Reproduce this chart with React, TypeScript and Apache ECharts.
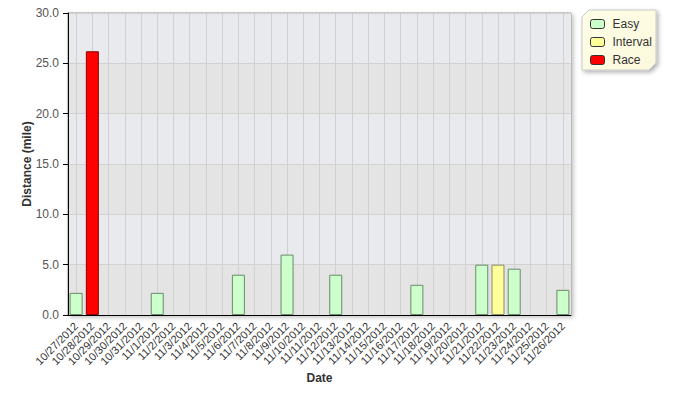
import React, { useEffect, useRef } from "react";
import * as echarts from "echarts";

const dates = [
  "10/27/2012", "10/28/2012", "10/29/2012", "10/30/2012", "10/31/2012",
  "11/1/2012", "11/2/2012", "11/3/2012", "11/4/2012", "11/5/2012",
  "11/6/2012", "11/7/2012", "11/8/2012", "11/9/2012", "11/10/2012",
  "11/11/2012", "11/12/2012", "11/13/2012", "11/14/2012", "11/15/2012",
  "11/16/2012", "11/17/2012", "11/18/2012", "11/19/2012", "11/20/2012",
  "11/21/2012", "11/22/2012", "11/23/2012", "11/24/2012", "11/25/2012",
  "11/26/2012",
];

const easy = [
  2.2, null, null, null, null, 2.2, null, null, null, null,
  4.0, null, null, 6.0, null, null, 4.0, null, null, null,
  null, 3.0, null, null, null, 5.0, null, 4.6, null, null,
  2.5,
];
const interval = [
  null, null, null, null, null, null, null, null, null, null,
  null, null, null, null, null, null, null, null, null, null,
  null, null, null, null, null, null, 5.0, null, null, null,
  null,
];
const race = [
  null, 26.2, null, null, null, null, null, null, null, null,
  null, null, null, null, null, null, null, null, null, null,
  null, null, null, null, null, null, null, null, null, null,
  null,
];

const yTicks = [0, 5, 10, 15, 20, 25, 30];

export default function App() {
  const ref = useRef<HTMLDivElement>(null);
  useEffect(() => {
    document.body.style.margin = "0";
    if (!ref.current) return;
    const chart = echarts.init(ref.current, null, { renderer: "svg" });
    const font = "Liberation Sans, Arial, sans-serif";
    const barCommon = {
      type: "bar" as const,
      stack: "total",
      barWidth: "80%",
    };
    chart.setOption({
      animation: false,
      backgroundColor: "#ffffff",
      textStyle: { fontFamily: font },
      grid: {
        left: 68,
        right: 106,
        top: 13,
        bottom: 84,
        show: true,
        backgroundColor: "#e4e4e4",
        borderColor: "#9a9a9a",
        borderWidth: 1,
        shadowColor: "rgba(0,0,0,0.25)",
        shadowBlur: 4,
        shadowOffsetX: 2,
        shadowOffsetY: 2,
      },
      graphic: [
        {
          type: "polygon",
          z: 0,
          shape: {
            points: [
              [589, 10], [656, 10], [656, 63], [649, 70], [582, 70], [582, 17],
            ],
          },
          style: {
            fill: new echarts.graphic.LinearGradient(0, 0, 1, 1, [
              { offset: 0, color: "#ffffe8" },
              { offset: 1, color: "#fbf8dc" },
            ]),
            stroke: "#c8c8c8",
            lineWidth: 1,
            shadowColor: "rgba(0,0,0,0.3)",
            shadowBlur: 4,
            shadowOffsetX: 2,
            shadowOffsetY: 2,
          },
        },
      ],
      legend: {
        orient: "vertical",
        left: 590,
        top: 18,
        itemWidth: 14,
        itemHeight: 9,
        itemGap: 6,
        padding: 0,
        z: 10,
        textStyle: { fontSize: 12, color: "#333", fontFamily: font, padding: [0, 0, 0, 3] },
        data: [
          { name: "Easy", itemStyle: { color: "#ccffcc", borderColor: "#333", borderWidth: 1 } },
          { name: "Interval", itemStyle: { color: "#ffff99", borderColor: "#333", borderWidth: 1 } },
          { name: "Race", itemStyle: { color: "#ff0000", borderColor: "#333", borderWidth: 1 } },
        ],
      },
      xAxis: {
        type: "category",
        data: dates,
        name: "Date",
        nameLocation: "middle",
        nameGap: 57,
        nameMoveOverlap: false,
        nameTextStyle: { fontWeight: "bold", fontSize: 12, color: "#333", fontFamily: font },
        axisLine: { lineStyle: { color: "#000", width: 1 } },
        axisTick: { alignWithLabel: true, length: 5, lineStyle: { color: "#000" } },
        axisLabel: {
          interval: 0,
          rotate: 45,
          fontSize: 11,
          color: "#333",
          margin: 9,
          fontFamily: font,
        },
        splitLine: {
          show: true,
          alignWithLabel: true,
          lineStyle: { color: "#d0d0d0", width: 1 },
        },
      },
      yAxis: {
        type: "value",
        min: 0,
        max: 30,
        interval: 5,
        name: "Distance (mile)",
        nameLocation: "middle",
        nameRotate: 90,
        nameGap: 35,
        nameMoveOverlap: false,
        nameTextStyle: { fontWeight: "bold", fontSize: 12, color: "#333", fontFamily: font },
        axisLine: { show: true, lineStyle: { color: "#000", width: 1 } },
        axisTick: { show: true, length: 5, lineStyle: { color: "#000" } },
        axisLabel: {
          fontSize: 12,
          color: "#555",
          margin: 9,
          fontFamily: font,
          formatter: (v: number) => (yTicks.includes(v) ? v.toFixed(1) : ""),
        },
        splitLine: { show: true, lineStyle: { color: "#d2d2d2", width: 1 } },
        splitArea: { show: true, areaStyle: { color: ["#e4e4e4", "#e8eaed"] } },
      },
      series: [
        {
          ...barCommon,
          name: "Easy",
          data: easy,
          itemStyle: { color: "#ccffcc", borderColor: "#6a8a6a", borderWidth: 1 },
        },
        {
          ...barCommon,
          name: "Interval",
          data: interval,
          itemStyle: { color: "#ffff99", borderColor: "#8a8a6a", borderWidth: 1 },
        },
        {
          ...barCommon,
          name: "Race",
          data: race,
          itemStyle: { color: "#ff0000", borderColor: "#8a0000", borderWidth: 1 },
        },
      ],
    });
    return () => chart.dispose();
  }, []);
  return <div ref={ref} style={{ width: 677, height: 399 }} />;
}
